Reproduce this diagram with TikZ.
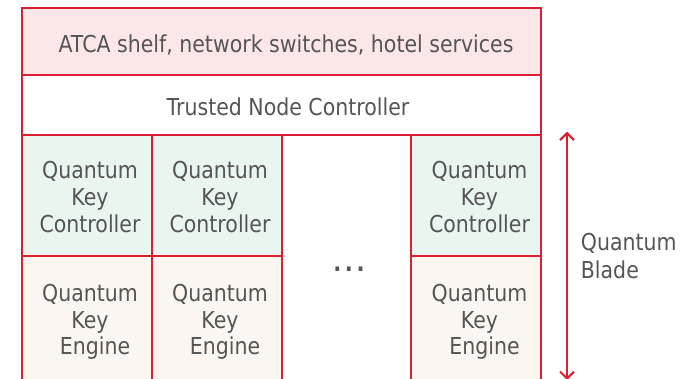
\documentclass[tikz,border=0pt]{standalone}
\usepackage{fontspec}
\setmainfont{DejaVu Sans}[FakeStretch=0.88]
\usetikzlibrary{arrows.meta}
\definecolor{framered}{RGB}{220,30,50}
\definecolor{shelfpink}{RGB}{251,231,232}
\definecolor{qkcgreen}{RGB}{232,246,239}
\definecolor{qkecream}{RGB}{253,246,240}
\definecolor{labelgray}{RGB}{85,85,85}
\begin{document}
\begin{tikzpicture}[x=1pt,y=-1pt,
  cell/.style={draw=framered, line width=2pt, inner sep=0pt, outer sep=0pt, anchor=north west},
  lbl/.style={text=labelgray, font=\fontsize{23.3}{26.7}\selectfont, align=center, inner sep=0pt},
  barb/.tip={Straight Barb[length=7pt,width=14pt]},
]
\useasboundingbox (0,0) rectangle (695,378);
\clip (0,0) rectangle (695,378);

% shelf and controller rows
\node[cell, fill=shelfpink, minimum width=519.3pt, minimum height=67pt] (shelf) at (21.7,8.3) {};
\node[cell, fill=white, minimum width=519.3pt, minimum height=60pt] (tnc) at (21.7,75.3) {};

% blade columns
\node[cell, fill=qkcgreen, minimum width=130pt, minimum height=121.5pt] (qkc1) at (21.7,134.7) {};
\node[cell, fill=qkcgreen, minimum width=130pt, minimum height=121.5pt] (qkc2) at (151.7,134.7) {};
\node[cell, fill=qkcgreen, minimum width=130pt, minimum height=121.5pt] (qkcn) at (411,134.7) {};
\node[cell, fill=qkecream, minimum width=130pt, minimum height=130pt] (qke1) at (21.7,256.2) {};
\node[cell, fill=qkecream, minimum width=130pt, minimum height=130pt] (qke2) at (151.7,256.2) {};
\node[cell, fill=qkecream, minimum width=130pt, minimum height=130pt] (qken) at (411,256.2) {};
\node[cell, minimum width=129.3pt, minimum height=251.5pt] (gap) at (281.7,134.7) {};

% labels
\node[lbl, anchor=base] (shelftext) at (286,52.3) {ATCA shelf, network switches, hotel services};
\node[lbl, anchor=base] (tnctext) at (288,115) {Trusted Node Controller};

\node[lbl] (qkc1text) at (90,197.2) {Quantum\\Key\\Controller};
\node[lbl] (qkc2text) at (220,197.2) {Quantum\\Key\\Controller};
\node[lbl] (qkcntext) at (479.5,197.2) {Quantum\\Key\\Controller};

\node[lbl] (qke1text) at (90,321.9) {Quantum\\Key\\\hspace*{10pt}Engine};
\node[lbl] (qke2text) at (220,321.9) {Quantum\\Key\\\hspace*{10pt}Engine};
\node[lbl] (qkentext) at (479.5,321.9) {Quantum\\Key\\\hspace*{10pt}Engine};

\node[lbl, anchor=base, font=\fontsize{24}{28}\bfseries] (dots) at (349,271) {.\hspace{3.5pt}.\hspace{3.5pt}.};

\node[lbl, align=left, anchor=west, font=\fontsize{23.3}{28.6}\selectfont] (bladetext) at (580.7,256.2) {Quantum\\Blade};

% blade height marker
\coordinate (btop) at (567,131.7);
\coordinate (bbot) at (567,380);
\draw[framered, line width=2pt, barb-barb] (btop) -- (bbot);
\end{tikzpicture}
\end{document}
